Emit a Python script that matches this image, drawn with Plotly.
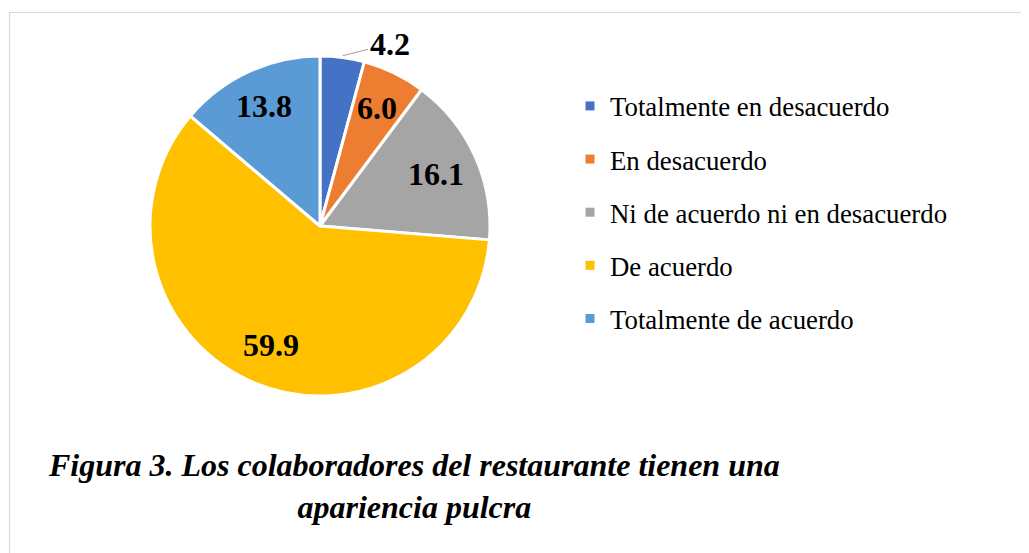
import math
import plotly.graph_objects as go

categories = ["Totalmente en desacuerdo", "En desacuerdo", "Ni de acuerdo ni en desacuerdo",
              "De acuerdo", "Totalmente de acuerdo"]
values = [4.2, 6.0, 16.1, 59.9, 13.8]
colors = ["#4472C4", "#ED7D31", "#A5A5A5", "#FFC000", "#5B9BD5"]
title_lines = ["Figura 3. Los colaboradores del restaurante tienen una", "apariencia pulcra"]

W, H = 1029, 553
OFF = 8  # page body margin
CX, CY, R = 320, 226, 170  # screen pixel centre / radius of the pie
label_frac = [1.01, 0.77, 0.75, 0.76, 0.78]

def px_to_paper(px, py):
    return (px - OFF) / W, 1 - (py - OFF) / H

fig = go.Figure()
x0, y0 = px_to_paper(CX - R, CY + R)
x1, y1 = px_to_paper(CX + R, CY - R)
fig.add_trace(go.Pie(
    labels=categories, values=values, sort=False, direction="clockwise", rotation=0,
    marker=dict(colors=colors, line=dict(color="white", width=3)),
    textinfo="none", hoverinfo="label+value", showlegend=False,
    domain=dict(x=[x0, x1], y=[y0, y1]),
))

# legend entries via dummy traces (one group each, for spacing)
for cat, col in zip(categories, colors):
    fig.add_trace(go.Scatter(x=[None], y=[None], mode="markers", name=cat, legendgroup=cat,
                             marker=dict(symbol="square", size=9, color=col)))

lab_font = dict(family="Liberation Serif", size=32, color="black")
annotations = []
total = sum(values)
cum = 0
for i, v in enumerate(values):
    mid = (cum + v / 2) / total * 2 * math.pi
    cum += v
    f = label_frac[i]
    px = CX + R * f * math.sin(mid)
    py = CY - R * f * math.cos(mid)
    x, y = px_to_paper(px, py)
    if i == 0:
        annotations.append(dict(x=x, y=y, xref="paper", yref="paper", text=f"<b>{v:.1f}</b>",
                                showarrow=True, arrowhead=0, arrowwidth=1.2, arrowcolor="#A6A6A6",
                                ax=47, ay=-12, xanchor="center", yanchor="middle", font=lab_font))
    else:
        annotations.append(dict(x=x, y=y, xref="paper", yref="paper", text=f"<b>{v:.1f}</b>",
                                showarrow=False, xanchor="center", yanchor="middle", font=lab_font))

tx, ty = px_to_paper(414, 486)
annotations.append(dict(x=tx, y=ty, xref="paper", yref="paper",
                        text="<br>".join(f"<b><i>{t}</i></b>" for t in title_lines),
                        showarrow=False, xanchor="center", yanchor="middle", align="center",
                        font=dict(family="Liberation Serif", size=32, color="black")))

lx, ly = px_to_paper(570, 82)
bx0, by1 = px_to_paper(9.5, 12.5)
fig.update_layout(
    width=W, height=H, margin=dict(l=0, r=0, t=0, b=0),
    paper_bgcolor="white", plot_bgcolor="white",
    xaxis=dict(visible=False), yaxis=dict(visible=False),
    annotations=annotations,
    legend=dict(x=lx, y=ly, xanchor="left", yanchor="top",
                font=dict(family="Liberation Serif", size=26.8, color="black"),
                tracegroupgap=15.3, bgcolor="rgba(0,0,0,0)"),
    shapes=[dict(type="rect", xref="paper", yref="paper", x0=bx0, x1=1.05,
                 y0=-0.05, y1=by1, line=dict(color="#D9D9D9", width=1.2))],
)

fig.write_html("out.html")
